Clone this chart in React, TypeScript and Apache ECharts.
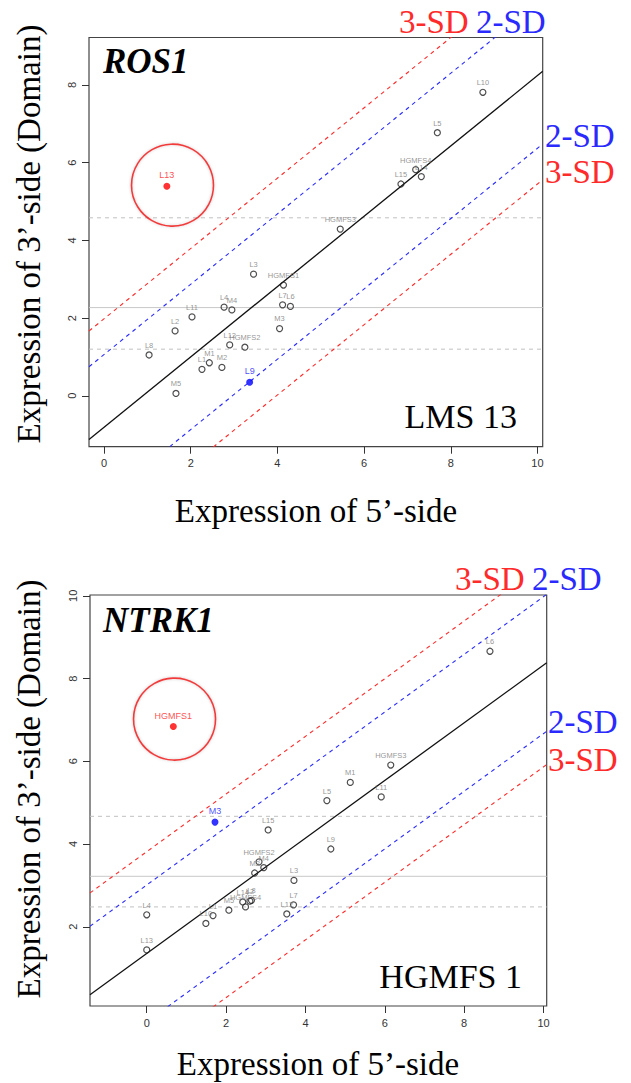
import React, { useEffect, useRef } from "react";
import * as echarts from "echarts";

const W = 631;
const H = 1083;

// ---------- ROS1 panel (LMS 13) ----------
const ros1Names = ["L1", "L2", "L3", "L4", "L5", "L6", "L7", "L8", "L10", "L11", "L12", "L14", "L15", "M1", "M2", "M3", "M4", "M5", "HGMFS1", "HGMFS2", "HGMFS3", "HGMFS4"];
const ros1X = [2.26, 1.64, 3.45, 2.77, 7.69, 4.30, 4.12, 1.04, 8.74, 2.03, 2.90, 7.32, 6.85, 2.43, 2.72, 4.05, 2.95, 1.66, 4.14, 3.25, 5.45, 7.19];
const ros1Y = [0.68, 1.67, 3.13, 2.28, 6.77, 2.30, 2.34, 1.05, 7.81, 2.03, 1.31, 5.64, 5.45, 0.85, 0.73, 1.73, 2.21, 0.06, 2.85, 1.25, 4.29, 5.82];
const ros1RedName = "L13";
const ros1RedXY = [1.45, 5.39];
const ros1BlueName = "L9";
const ros1BlueXY = [3.36, 0.35];
const ros1Ring = [1.58, 5.42];
const ros1Reg = [-0.81, 0.905]; // intercept, slope
const ros1SD = [1.87, 2.79]; // 2-SD, 3-SD offsets
const ros1Mean = 2.27;
const ros1Dashed = [1.2, 4.58];
const ros1XRange = [-0.346, 10.12];
const ros1YRange = [-1.31, 9.22];
const ros1XTicks = [0, 2, 4, 6, 8, 10];
const ros1YTicks = [0, 2, 4, 6, 8];

// ---------- NTRK1 panel (HGMFS 1) ----------
const ntrkNames = ["L1", "L2", "L3", "L4", "L5", "L6", "L7", "L8", "L9", "L10", "L11", "L12", "L13", "L14", "L15", "M1", "M2", "M4", "M5", "HGMFS2", "HGMFS3", "HGMFS4"];
const ntrkX = [1.67, 2.60, 3.71, 0.0, 4.54, 8.65, 3.70, 2.64, 4.64, 1.49, 5.91, 3.53, 0.0, 2.42, 3.06, 5.13, 2.72, 2.95, 2.07, 2.83, 6.15, 2.49];
const ntrkY = [2.27, 2.62, 3.12, 2.29, 5.05, 8.66, 2.53, 2.64, 3.88, 2.08, 5.14, 2.31, 1.44, 2.60, 4.34, 5.49, 3.30, 3.43, 2.40, 3.57, 5.91, 2.48];
const ntrkRedName = "HGMFS1";
const ntrkRedXY = [0.67, 6.84];
const ntrkBlueName = "M3";
const ntrkBlueXY = [1.72, 4.53];
const ntrkRing = [0.70, 7.02];
const ntrkReg = [1.355, 0.697];
const ntrkSD = [1.655, 2.46];
const ntrkMean = 3.22;
const ntrkDashed = [2.48, 4.67];
const ntrkXRange = [-1.43, 10.08];
const ntrkYRange = [0.085, 10.02];
const ntrkXTicks = [0, 2, 4, 6, 8, 10];
const ntrkYTicks = [2, 4, 6, 8, 10];

const SERIF = '"Liberation Serif", "Times New Roman", serif';
const SANS = '"Liberation Sans", Arial, Helvetica, sans-serif';
const RED = "#ff2a2a";
const BLUE = "#2a2aff";

type Panel = {
  names: string[]; xs: number[]; ys: number[];
  redName: string; redXY: number[]; blueName: string; blueXY: number[];
  ring: number[]; reg: number[]; sd: number[]; mean: number; dashed: number[];
  xr: number[]; yr: number[]; xt: number[]; yt: number[];
};

const panels: Panel[] = [
  { names: ros1Names, xs: ros1X, ys: ros1Y, redName: ros1RedName, redXY: ros1RedXY, blueName: ros1BlueName, blueXY: ros1BlueXY, ring: ros1Ring, reg: ros1Reg, sd: ros1SD, mean: ros1Mean, dashed: ros1Dashed, xr: ros1XRange, yr: ros1YRange, xt: ros1XTicks, yt: ros1YTicks },
  { names: ntrkNames, xs: ntrkX, ys: ntrkY, redName: ntrkRedName, redXY: ntrkRedXY, blueName: ntrkBlueName, blueXY: ntrkBlueXY, ring: ntrkRing, reg: ntrkReg, sd: ntrkSD, mean: ntrkMean, dashed: ntrkDashed, xr: ntrkXRange, yr: ntrkYRange, xt: ntrkXTicks, yt: ntrkYTicks },
];

const grids = [
  { left: 89, top: 37.5, width: 453.7, height: 409.2 },
  { left: 90, top: 595, width: 456.7, height: 411 },
];

function lineSeries(i: number, data: number[][], color: string, type: any, width = 1.1, z = 2) {
  return {
    type: "line", xAxisIndex: i, yAxisIndex: i, data, symbol: "none", silent: true, clip: true, z,
    lineStyle: { color, width, type },
  };
}

function buildSeries(p: Panel, i: number) {
  const s: any[] = [];
  const [x0, x1] = p.xr;
  s.push(lineSeries(i, [[x0, p.mean], [x1, p.mean]], "#c8c8c8", "solid", 1));
  p.dashed.forEach((v) => s.push(lineSeries(i, [[x0, v], [x1, v]], "#c0c0c0", [4, 4], 1)));
  const diag = (off: number) => [[x0, p.reg[0] + off + p.reg[1] * x0], [x1, p.reg[0] + off + p.reg[1] * x1]];
  s.push(lineSeries(i, diag(0), "#111", "solid", 1.3, 3));
  s.push(lineSeries(i, diag(p.sd[0]), BLUE, [4, 4]));
  s.push(lineSeries(i, diag(-p.sd[0]), BLUE, [4, 4]));
  s.push(lineSeries(i, diag(p.sd[1]), RED, [4, 4]));
  s.push(lineSeries(i, diag(-p.sd[1]), RED, [4, 4]));
  s.push({
    type: "scatter", xAxisIndex: i, yAxisIndex: i, silent: true, z: 4,
    data: [p.ring], symbol: "circle", symbolSize: 82,
    itemStyle: { color: "rgba(255,255,255,0)", borderColor: "#f01010", borderWidth: 1.6, shadowBlur: 3, shadowColor: "rgba(0,0,0,0.25)" },
  });
  s.push({
    type: "scatter", xAxisIndex: i, yAxisIndex: i, silent: true, z: 5,
    data: p.names.map((n, k) => ({ name: n, value: [p.xs[k], p.ys[k]] })),
    symbol: "circle", symbolSize: 6,
    itemStyle: { color: "rgba(255,255,255,0)", borderColor: "#222", borderWidth: 1.2 },
    label: { show: true, position: "top", distance: 2, formatter: "{b}", fontSize: 7.5, color: "#7a7a7a", fontFamily: SANS },
  });
  s.push({
    type: "scatter", xAxisIndex: i, yAxisIndex: i, silent: true, z: 6,
    data: [{ name: p.redName, value: p.redXY }], symbol: "circle", symbolSize: 7,
    itemStyle: { color: "#f00" },
    label: { show: true, position: "top", distance: 3, formatter: "{b}", fontSize: 9, color: "#f22", fontFamily: SANS },
  });
  s.push({
    type: "scatter", xAxisIndex: i, yAxisIndex: i, silent: true, z: 6,
    data: [{ name: p.blueName, value: p.blueXY }], symbol: "circle", symbolSize: 7,
    itemStyle: { color: "#00f" },
    label: { show: true, position: "top", distance: 3, formatter: "{b}", fontSize: 9, color: "#22f", fontFamily: SANS },
  });
  return s;
}

function txt(text: string, x: number, y: number, size: number, color: string, align = "left", extra: any = {}) {
  return {
    type: "text", x, y, z: 100, silent: true, ...extra,
    style: {
      text, fill: color, fontSize: size, fontFamily: SERIF,
      fontWeight: extra.fontWeight || "normal", fontStyle: extra.fontStyle || "normal",
      align, verticalAlign: "middle", textAlign: align, textVerticalAlign: "middle",
    },
  };
}

export default function App() {
  const ref = useRef<HTMLDivElement>(null);
  useEffect(() => {
    if (!ref.current) return;
    const chart = echarts.init(ref.current, undefined, { renderer: "svg", width: W, height: H });
    const xAxis = panels.map((p, i) => ({
      type: "value", gridIndex: i, min: p.xr[0], max: p.xr[1], position: "bottom",
      axisLine: { show: false, onZero: false }, splitLine: { show: false },
      axisTick: { show: true, inside: false, length: 7, lineStyle: { color: "#333" }, customValues: p.xt },
      axisLabel: { show: true, margin: 11, fontSize: 11, color: "#333", fontFamily: SANS, customValues: p.xt },
    }));
    const yAxis = panels.map((p, i) => ({
      type: "value", gridIndex: i, min: p.yr[0], max: p.yr[1], position: "left",
      axisLine: { show: false, onZero: false }, splitLine: { show: false },
      axisTick: { show: true, inside: false, length: 7, lineStyle: { color: "#333" }, customValues: p.yt },
      axisLabel: { show: true, rotate: 90, margin: 12, fontSize: 11, color: "#333", fontFamily: SANS, customValues: p.yt },
    }));
    const graphic = [
      txt("ROS1", 103, 61, 35, "#000", "left", { fontWeight: "bold", fontStyle: "italic" }),
      txt("NTRK1", 103, 620, 35, "#000", "left", { fontWeight: "bold", fontStyle: "italic" }),
      txt("LMS 13", 517, 416, 34, "#000", "right"),
      txt("HGMFS 1", 522, 976, 34, "#000", "right"),
      txt("3-SD", 399, 22, 33, RED),
      txt("2-SD", 476, 22, 33, BLUE),
      txt("2-SD", 545, 136, 33, BLUE),
      txt("3-SD", 545, 172, 33, RED),
      txt("3-SD", 455, 579, 33, RED),
      txt("2-SD", 532, 579, 33, BLUE),
      txt("2-SD", 548, 722, 33, BLUE),
      txt("3-SD", 548, 760, 33, RED),
      txt("Expression of 5\u2019-side", 316, 511, 33, "#000", "center"),
      txt("Expression of 5\u2019-side", 318, 1064, 33, "#000", "center"),
      txt("Expression of 3\u2019-side (Domain)", 29, 234, 33, "#000", "center", { rotation: Math.PI / 2 }),
      txt("Expression of 3\u2019-side (Domain)", 29, 789, 33, "#000", "center", { rotation: Math.PI / 2 }),
    ];
    chart.setOption({
      animation: false,
      backgroundColor: "#fff",
      grid: grids.map((g) => ({ ...g, show: true, borderColor: "#444", borderWidth: 1.2, backgroundColor: "transparent", containLabel: false })),
      xAxis,
      yAxis,
      series: panels.flatMap((p, i) => buildSeries(p, i)),
      graphic,
    });
    return () => chart.dispose();
  }, []);
  return <div ref={ref} style={{ position: "absolute", left: 0, top: 0, width: W, height: H, background: "#fff" }} />;
}
